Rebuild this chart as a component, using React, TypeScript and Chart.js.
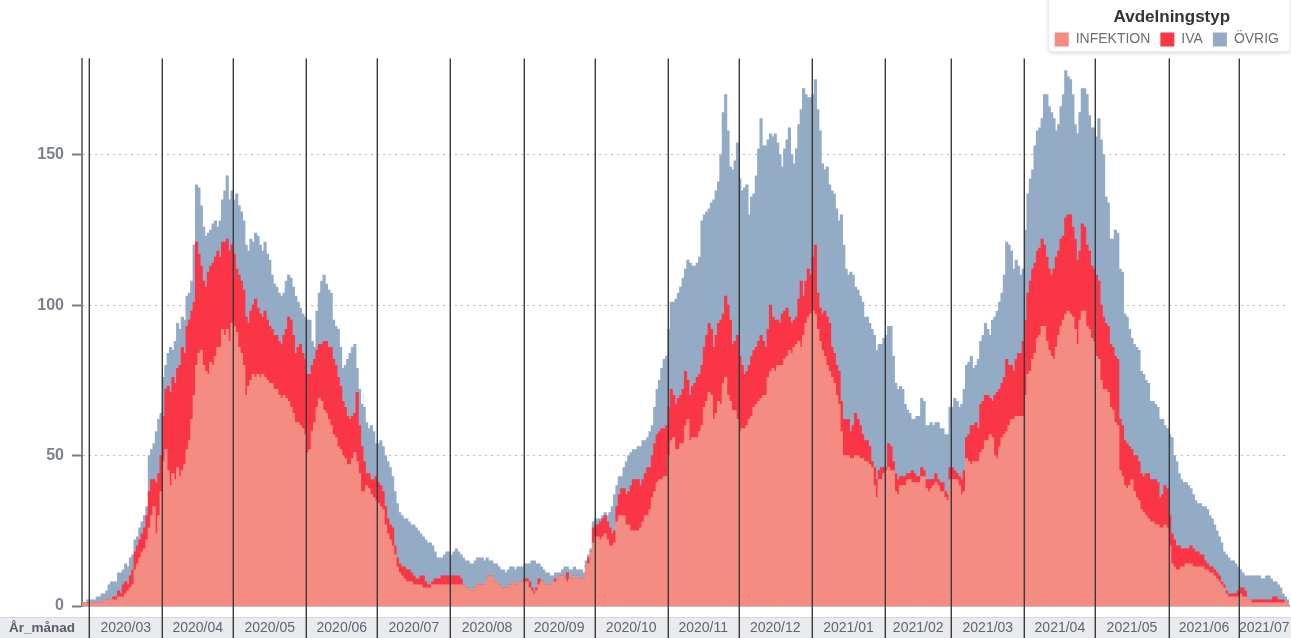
import React, { useEffect, useRef } from 'react';
import { Chart, registerables } from 'chart.js';

Chart.register(...registerables);

// ---- Data (daily, starting 2020-02-27) ----
const START_DATE = '2020-02-27';

const INFEKTION = [
  1, 1, 1, 1, 1, 1, 1, 1, 1, 2,
  2, 2, 2, 2, 2, 3, 3, 3, 4, 5,
  6, 7, 12, 14, 16, 18, 19, 22, 26, 30,
  33, 24, 30, 38, 48, 52, 45, 40, 44, 42,
  46, 43, 45, 47, 52, 55, 62, 70, 80, 84,
  85, 80, 78, 77, 81, 80, 83, 86, 86, 92,
  90, 92, 88, 94, 93, 91, 86, 84, 80, 70,
  73, 75, 77, 76, 77, 76, 77, 76, 75, 74,
  74, 72, 72, 70, 69, 70, 69, 68, 66, 64,
  61, 61, 60, 59, 57, 51, 52, 58, 61, 66,
  69, 68, 65, 64, 62, 60, 57, 56, 53, 52,
  50, 49, 47, 47, 49, 51, 48, 44, 38, 38,
  40, 39, 37, 36, 35, 34, 33, 32, 27, 24,
  22, 20, 17, 13, 11, 10, 9, 8, 8, 8,
  7, 7, 7, 7, 6, 6, 6, 6, 7, 7,
  7, 7, 7, 7, 7, 7, 7, 7, 7, 7,
  7, 7, 6, 6, 5, 5, 6, 7, 7, 7,
  7, 9, 10, 10, 8, 8, 7, 6, 6, 6,
  6, 7, 8, 7, 7, 8, 8, 8, 8, 6,
  5, 4, 5, 7, 8, 8, 7, 7, 7, 8,
  8, 9, 10, 10, 9, 8, 9, 9, 10, 10,
  9, 9, 9, 13, 14, 18, 21, 23, 23, 22,
  23, 24, 22, 20, 20, 21, 28, 30, 30, 30,
  27, 27, 25, 25, 25, 25, 26, 28, 30, 30,
  32, 36, 38, 41, 42, 42, 43, 43, 50, 55,
  56, 52, 52, 54, 54, 60, 62, 55, 56, 56,
  56, 58, 60, 66, 68, 71, 70, 62, 64, 68,
  67, 74, 76, 70, 68, 65, 65, 62, 58, 59,
  59, 60, 62, 63, 66, 67, 68, 69, 70, 70,
  76, 78, 79, 78, 80, 80, 80, 82, 83, 85,
  84, 86, 87, 88, 86, 90, 94, 96, 97, 98,
  97, 92, 88, 85, 83, 80, 78, 76, 74, 70,
  67, 58, 50, 50, 50, 49, 49, 50, 50, 49,
  49, 48, 48, 47, 46, 40, 36, 42, 42, 44,
  45, 46, 45, 45, 38, 37, 40, 40, 40, 42,
  42, 41, 41, 41, 41, 43, 43, 39, 38, 39,
  40, 41, 40, 38, 38, 36, 35, 42, 42, 42,
  42, 40, 37, 38, 49, 48, 47, 48, 48, 48,
  51, 52, 55, 55, 57, 56, 50, 49, 53, 56,
  57, 58, 60, 62, 62, 63, 63, 63, 63, 70,
  77, 78, 82, 84, 89, 90, 93, 93, 88, 85,
  83, 82, 86, 90, 93, 95, 97, 98, 97, 96,
  92, 87, 95, 98, 98, 93, 92, 89, 88, 83,
  82, 75, 72, 72, 71, 66, 65, 61, 60, 45,
  43, 40, 39, 40, 42, 38, 36, 35, 32, 31,
  30, 29, 28, 28, 27, 27, 26, 26, 27, 26,
  20, 14, 13, 12, 12, 13, 13, 14, 14, 14,
  13, 13, 13, 13, 13, 12, 12, 11, 11, 10,
  9, 8, 7, 6, 4, 3, 3, 3, 3, 3,
  4, 3, 3, 2, 2, 1, 1, 1, 1, 1,
  1, 1, 1, 1, 1, 1, 1, 1, 1, 1, 1,
];

const IVA = [
  0, 0, 0, 0, 0, 0, 0, 0, 0, 0,
  0, 0, 0, 1, 1, 2, 1, 4, 4, 2,
  4, 5, 6, 6, 6, 6, 7, 8, 12, 12,
  9, 17, 14, 12, 15, 20, 28, 31, 32, 32,
  33, 37, 41, 37, 41, 40, 36, 31, 41, 33,
  28, 28, 28, 34, 32, 34, 33, 32, 30, 29,
  31, 30, 30, 26, 24, 21, 24, 24, 25, 26,
  21, 23, 23, 26, 22, 21, 19, 22, 20, 19,
  18, 18, 18, 18, 18, 20, 23, 28, 29, 26,
  23, 25, 27, 25, 25, 26, 25, 22, 21, 19,
  18, 19, 23, 24, 24, 26, 25, 24, 23, 21,
  18, 17, 16, 15, 14, 13, 23, 16, 15, 10,
  4, 5, 5, 6, 8, 7, 7, 6, 6, 5,
  5, 6, 3, 3, 3, 3, 4, 4, 4, 3,
  3, 2, 2, 3, 4, 2, 1, 1, 1, 2,
  2, 2, 3, 3, 3, 3, 3, 3, 3, 3,
  2, 0, 0, 0, 0, 0, 0, 0, 0, 0,
  0, 0, 0, 0, 0, 0, 0, 0, 0, 0,
  0, 0, 0, 0, 0, 0, 0, 1, 1, 2,
  1, 1, 1, 2, 0, 0, 0, 0, 0, 0,
  1, 0, 0, 0, 0, 3, 0, 0, 0, 0,
  0, 0, 0, 0, 2, 0, 5, 4, 4, 6,
  6, 6, 6, 6, 4, 4, 5, 7, 9, 9,
  10, 11, 15, 17, 17, 17, 14, 14, 14, 16,
  14, 14, 16, 16, 16, 17, 16, 17, 16, 17,
  14, 15, 17, 16, 18, 18, 13, 15, 17, 18,
  20, 19, 20, 20, 22, 23, 22, 24, 26, 26,
  28, 23, 27, 30, 27, 22, 23, 28, 25, 21,
  18, 18, 18, 20, 19, 19, 20, 21, 18, 16,
  16, 22, 17, 17, 15, 14, 17, 16, 16, 11,
  10, 9, 9, 14, 22, 13, 14, 16, 13, 18,
  23, 12, 11, 12, 15, 16, 16, 10, 10, 10,
  11, 10, 12, 12, 12, 9, 11, 14, 12, 11,
  8, 7, 7, 6, 2, 6, 6, 3, 4, 2,
  1, 8, 8, 3, 6, 5, 3, 3, 3, 2,
  2, 4, 3, 2, 2, 3, 2, 3, 4, 3,
  2, 3, 2, 3, 3, 2, 2, 4, 4, 3,
  2, 3, 5, 7, 7, 9, 13, 12, 13, 11,
  16, 16, 15, 15, 12, 12, 20, 22, 19, 18,
  19, 24, 20, 18, 16, 19, 21, 21, 25, 25,
  27, 30, 30, 30, 29, 29, 29, 27, 28, 27,
  27, 30, 30, 28, 29, 28, 32, 32, 33, 30,
  30, 28, 23, 29, 28, 27, 26, 24, 24, 27,
  26, 25, 24, 22, 22, 21, 21, 22, 22, 17,
  17, 15, 15, 13, 10, 12, 14, 13, 12, 12,
  14, 15, 14, 14, 15, 14, 10, 11, 13, 13,
  10, 10, 9, 8, 8, 6, 6, 5, 5, 6,
  6, 5, 5, 4, 4, 3, 2, 2, 2, 2,
  2, 2, 1, 1, 1, 1, 1, 1, 1, 2,
  2, 3, 2, 0, 0, 1, 1, 1, 1, 1,
  1, 1, 1, 1, 2, 2, 1, 1, 1, 0, 0,
];

const OVRIG = [
  0, 0, 1, 1, 1, 1, 2, 2, 3, 2,
  3, 5, 6, 5, 5, 6, 7, 5, 6, 6,
  6, 5, 4, 3, 4, 4, 4, 3, 12, 10,
  12, 17, 18, 14, 13, 8, 11, 15, 9, 14,
  15, 12, 10, 11, 10, 9, 10, 19, 19, 22,
  20, 18, 17, 13, 12, 13, 12, 8, 12, 14,
  17, 21, 17, 18, 18, 25, 23, 23, 23, 24,
  24, 24, 21, 22, 24, 23, 22, 23, 22, 22,
  18, 17, 16, 16, 16, 14, 16, 14, 14, 16,
  19, 15, 12, 13, 14, 18, 18, 8, 4, 13,
  17, 21, 22, 19, 19, 18, 13, 13, 16, 13,
  11, 14, 19, 22, 23, 23, 8, 12, 14, 18,
  17, 15, 18, 16, 11, 13, 15, 15, 17, 19,
  19, 17, 18, 18, 17, 17, 16, 17, 16, 16,
  17, 17, 16, 14, 13, 14, 14, 14, 12, 9,
  7, 7, 6, 7, 8, 8, 7, 8, 9, 8,
  8, 9, 9, 9, 9, 9, 9, 9, 9, 9,
  8, 7, 5, 5, 6, 6, 6, 6, 6, 5,
  6, 6, 5, 5, 6, 5, 5, 5, 5, 6,
  9, 10, 8, 5, 5, 4, 4, 4, 3, 2,
  2, 2, 1, 2, 4, 2, 3, 3, 3, 2,
  3, 3, 2, 2, 1, 1, 2, 2, 2, 1,
  1, 1, 2, 5, 9, 12, 7, 6, 4, 7,
  11, 12, 11, 10, 10, 11, 13, 13, 11, 10,
  12, 10, 12, 15, 17, 20, 23, 23, 26, 29,
  31, 35, 35, 36, 37, 34, 40, 44, 40, 39,
  38, 39, 48, 44, 41, 38, 42, 49, 48, 47,
  55, 67, 67, 58, 51, 58, 60, 64, 59, 58,
  62, 62, 50, 53, 52, 57, 64, 72, 65, 67,
  63, 57, 60, 62, 59, 56, 49, 54, 56, 63,
  56, 52, 56, 58, 57, 69, 62, 57, 59, 54,
  55, 61, 59, 50, 47, 50, 46, 52, 53, 52,
  50, 62, 58, 50, 48, 53, 50, 42, 43, 43,
  44, 41, 41, 41, 44, 44, 43, 42, 41, 43,
  44, 39, 40, 35, 30, 30, 30, 29, 24, 21,
  20, 17, 18, 20, 20, 23, 23, 18, 18, 19,
  18, 17, 19, 18, 18, 19, 20, 20, 20, 24,
  24, 23, 25, 27, 24, 24, 23, 19, 19, 23,
  21, 22, 24, 22, 21, 27, 26, 27, 29, 30,
  34, 39, 40, 38, 34, 33, 29, 26, 24, 30,
  33, 34, 33, 39, 40, 40, 40, 50, 54, 54,
  54, 50, 42, 42, 44, 47, 49, 46, 45, 44,
  38, 42, 46, 45, 46, 50, 45, 46, 47, 46,
  54, 55, 54, 42, 41, 35, 36, 42, 42, 50,
  51, 42, 42, 39, 37, 37, 36, 37, 34, 34,
  31, 30, 26, 26, 25, 25, 26, 25, 20, 20,
  27, 32, 28, 28, 24, 23, 22, 22, 21, 19,
  18, 17, 16, 17, 16, 18, 18, 17, 16, 15,
  14, 13, 13, 11, 12, 12, 11, 11, 10, 8,
  6, 5, 5, 8, 8, 8, 8, 8, 8, 7,
  7, 8, 8, 7, 5, 5, 5, 4, 2, 2, 1,
];

const SERIES_NAMES = ['INFEKTION', 'IVA', 'ÖVRIG'];
const SERIES_COLORS = ['#F48C82', '#FA3646', '#93ABC5'];
const MONTH_LABELS = [
  '2020/03', '2020/04', '2020/05', '2020/06', '2020/07', '2020/08', '2020/09',
  '2020/10', '2020/11', '2020/12', '2021/01', '2021/02', '2021/03', '2021/04',
  '2021/05', '2021/06', '2021/07',
];
const Y_TICKS = [0, 50, 100, 150];
const AXIS_TITLE = 'År_månad';
const LEGEND_TITLE = 'Avdelningstyp';

// Category labels: consecutive dates
function buildDates(start: string, n: number): string[] {
  const out: string[] = [];
  const d0 = new Date(start + 'T00:00:00Z');
  for (let i = 0; i < n; i++) {
    const d = new Date(d0.getTime() + i * 86400000);
    out.push(d.toISOString().slice(0, 10));
  }
  return out;
}
const DATES = buildDates(START_DATE, INFEKTION.length);
const MONTH_STARTS = DATES.map((d, i) => (d.endsWith('-01') ? i : -1)).filter((i) => i >= 0);

const FONT = '"Liberation Sans", Arial, Helvetica, sans-serif';

const bandPlugin = {
  id: 'monthBand',
  beforeDraw(chart: any) {
    const { ctx, chartArea, width, height } = chart;
    const bandTop = chartArea.bottom + 11;
    ctx.save();
    ctx.fillStyle = '#ffffff';
    ctx.fillRect(0, 0, width, height);
    ctx.fillStyle = '#e9ebee';
    ctx.fillRect(0, bandTop, width, height - bandTop);
    ctx.strokeStyle = '#d3d7db';
    ctx.lineWidth = 1;
    ctx.beginPath();
    ctx.moveTo(0, bandTop + 0.5);
    ctx.lineTo(width, bandTop + 0.5);
    ctx.stroke();
    // legend box
    const lg = chart.legend;
    if (lg && lg.legendHitBoxes && lg.legendHitBoxes.length) {
      const minX = Math.min(...lg.legendHitBoxes.map((b: any) => b.left)) - 6;
      const maxY = Math.max(...lg.legendHitBoxes.map((b: any) => b.top + b.height));
      const bx = minX, by = -3, bw = width - minX - 1, bh = maxY + 5 - by;
      ctx.shadowColor = 'rgba(0,0,0,0.2)';
      ctx.shadowBlur = 4;
      ctx.shadowOffsetY = 1;
      ctx.fillStyle = '#ffffff';
      ctx.beginPath();
      (ctx as any).roundRect ? (ctx as any).roundRect(bx, by, bw, bh, 4) : ctx.rect(bx, by, bw, bh);
      ctx.fill();
      ctx.shadowColor = 'transparent';
      ctx.strokeStyle = '#eeeeee';
      ctx.stroke();
    }
    ctx.restore();
  },
  afterDraw(chart: any) {
    const { ctx, chartArea, height } = chart;
    const xs = chart.scales.x;
    const half = (xs.getPixelForValue(1) - xs.getPixelForValue(0)) / 2;
    const bandTop = chartArea.bottom + 11;
    const n = DATES.length;
    ctx.save();
    // month boundary lines
    ctx.strokeStyle = '#3a3a3a';
    ctx.lineWidth = 1.4;
    MONTH_STARTS.forEach((s) => {
      const x = Math.round(xs.getPixelForValue(s) - half) + 0.3;
      ctx.beginPath();
      ctx.moveTo(x, chartArea.top);
      ctx.lineTo(x, height);
      ctx.stroke();
    });
    // month labels
    ctx.fillStyle = '#5f6570';
    ctx.font = '14px ' + FONT;
    ctx.textAlign = 'center';
    ctx.textBaseline = 'middle';
    const yMid = (bandTop + height) / 2 + 1;
    MONTH_STARTS.forEach((s, k) => {
      const e = k + 1 < MONTH_STARTS.length ? MONTH_STARTS[k + 1] : n;
      const x0 = xs.getPixelForValue(s) - half;
      const x1 = xs.getPixelForValue(e - 1) + half;
      ctx.fillText(MONTH_LABELS[k], (x0 + x1) / 2, yMid);
    });
    ctx.textAlign = 'left';
    ctx.fillStyle = '#575d67';
    ctx.font = 'bold 13.5px ' + FONT;
    ctx.fillText(AXIS_TITLE, 9, yMid);
    ctx.restore();
  },
};

export default function App() {
  const ref = useRef<HTMLCanvasElement | null>(null);
  useEffect(() => {
    document.body.style.margin = '0';
    Chart.defaults.font.family = FONT;
    const values = [INFEKTION, IVA, OVRIG];
    const chart = new Chart(ref.current as HTMLCanvasElement, {
      type: 'bar',
      data: {
        labels: DATES,
        datasets: SERIES_NAMES.map((name, i) => ({
          label: name,
          data: values[i],
          backgroundColor: SERIES_COLORS[i],
          borderWidth: 0,
          barPercentage: 1,
          categoryPercentage: 1,
          inflateAmount: 0.4,
        })),
      },
      plugins: [bandPlugin],
      options: {
        animation: false,
        responsive: false,
        events: [],
        layout: { padding: { right: 2, top: 2, left: 0, bottom: 0 } },
        plugins: {
          tooltip: { enabled: false },
          subtitle: {
            display: true,
            text: '',
            weight: 500,
            font: { size: 1 },
            padding: { top: 0, bottom: 1 },
          },
          legend: {
            position: 'top',
            align: 'end',
            title: {
              display: true,
              text: LEGEND_TITLE,
              color: '#333333',
              font: { size: 17, weight: 'bold', family: FONT },
              padding: { top: 7, bottom: -7 },
            },
            labels: {
              boxWidth: 14,
              boxHeight: 14,
              color: '#6d6d6d',
              padding: 10,
              font: { size: 14, family: FONT },
            },
          },
        },
        scales: {
          x: {
            stacked: true,
            offset: true,
            grid: { display: false },
            ticks: { display: false },
            border: { display: true, color: '#7d7d7d', width: 1.5 },
            afterFit: (s: any) => {
              s.height = 32;
            },
          },
          y: {
            stacked: true,
            min: 0,
            max: 182,
            z: 1,
            afterBuildTicks: (s: any) => {
              s.ticks = Y_TICKS.map((v) => ({ value: v }));
            },
            ticks: {
              color: '#7b808a',
              padding: 8,
              font: { size: 16, weight: 'bold', family: FONT },
            },
            grid: {
              color: (c: any) => (c.tick && c.tick.value === 0 ? 'rgba(0,0,0,0)' : 'rgba(90,90,90,0.42)'),
              tickColor: '#7d7d7d',
              tickLength: 10,
              tickWidth: 2,
              lineWidth: 1,
            },
            border: { display: true, color: '#7d7d7d', width: 2, dash: [2, 4] },
            afterFit: (s: any) => {
              s.width = 82;
            },
          },
        },
      } as any,
    });
    return () => chart.destroy();
  }, []);
  return (
    <div style={{ width: 1291, height: 638 }}>
      <canvas ref={ref} width={1291} height={638} style={{ display: 'block' }} />
    </div>
  );
}
